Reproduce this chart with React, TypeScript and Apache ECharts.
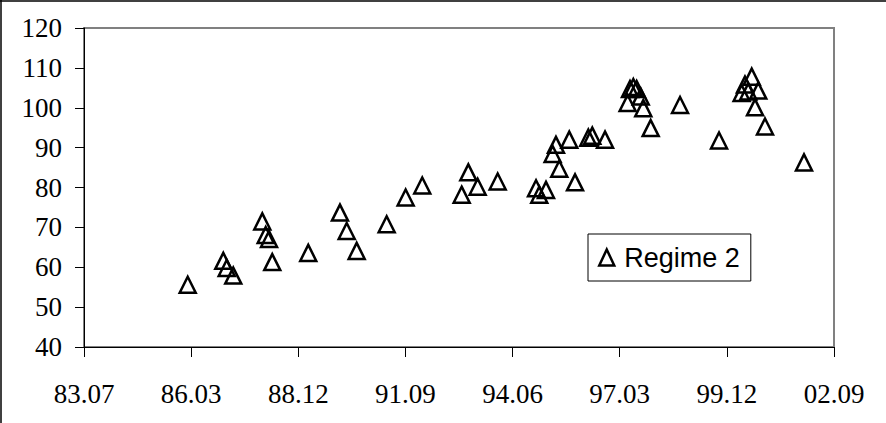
import React, { useEffect, useRef } from "react";
import * as echarts from "echarts";

// x = days since 1983-07 (axis start), y = value
const xTickLabels = ["83.07", "86.03", "88.12", "91.09", "94.06", "97.03", "99.12", "02.09"];
const seriesName = "Regime 2";
const xDays = [
  968, 1300, 1332, 1393, 1664, 1696, 1727, 1757, 2093, 2389, 2452, 2545, 2825, 3002, 3157,
  3525, 3587, 3674, 3861, 4219, 4249, 4312, 4374, 4405, 4436, 4529, 4583, 4707, 4744, 4863,
  5074, 5096, 5127, 5158, 5196, 5220, 5289, 5563, 5927, 6138, 6169, 6200, 6232, 6263, 6293,
  6356, 6720,
];
const yValues = [
  55.6, 61.6, 59.8, 57.9, 71.5, 68.1, 67.1, 61.3, 63.6, 73.7, 69.1, 64.1, 70.8, 77.5, 80.5,
  78.2, 83.8, 80.2, 81.5, 79.8, 78.2, 79.4, 88.4, 90.7, 84.7, 92.0, 81.3, 92.5, 93.0, 92.0,
  101.2, 104.7, 105.2, 104.7, 102.8, 99.9, 94.9, 100.7, 91.8, 103.7, 105.8, 104.1, 107.8, 100.1, 104.3,
  95.3, 86.3,
];
const yMin = 40;
const yMax = 120;
const yStep = 10;
const xStep = 1000;

export default function App() {
  const ref = useRef<HTMLDivElement>(null);
  useEffect(() => {
    if (!ref.current) return;
    const chart = echarts.init(ref.current, null, { renderer: "svg" });
    const serif = "'Liberation Serif', 'Times New Roman', serif";
    const sans = "'Liberation Sans', Arial, sans-serif";
    chart.setOption({
      animation: false,
      backgroundColor: "#ffffff",
      grid: {
        left: 84,
        top: 28,
        right: 52,
        bottom: 76,
        show: true,
        borderColor: "#808080",
        borderWidth: 2,
        backgroundColor: "transparent",
      },
      xAxis: {
        type: "value",
        min: 0,
        max: xStep * (xTickLabels.length - 1),
        interval: xStep,
        axisLine: { show: true, lineStyle: { color: "#000", width: 1 } },
        axisTick: { show: true, inside: false, length: 10, lineStyle: { color: "#000", width: 1 } },
        splitLine: { show: false },
        axisLabel: {
          margin: 33,
          fontSize: 27,
          fontFamily: serif,
          color: "#000",
          formatter: (v: number) => xTickLabels[Math.round(v / xStep)] ?? "",
        },
      },
      yAxis: {
        type: "value",
        min: yMin,
        max: yMax,
        interval: yStep,
        axisLine: { show: true, lineStyle: { color: "#000", width: 1 } },
        axisTick: { show: true, inside: false, length: 9, lineStyle: { color: "#000", width: 1 } },
        splitLine: { show: false },
        axisLabel: {
          margin: 22,
          fontSize: 27,
          fontFamily: serif,
          color: "#000",
        },
      },
      legend: {
        show: true,
        left: 588,
        top: 234,
        orient: "horizontal",
        padding: [10, 11, 10, 10],
        borderColor: "#000",
        borderWidth: 1,
        backgroundColor: "#fff",
        itemWidth: 15,
        itemHeight: 16,
        icon: "triangle",
        itemStyle: { color: "transparent", borderColor: "#000", borderWidth: 2.5 },
        textStyle: {
          fontSize: 27,
          fontFamily: sans,
          color: "#000",
          lineHeight: 27,
          padding: [0, 0, 0, 5],
        },
        data: [seriesName],
      },
      graphic: [
        { type: "line", shape: { x1: 0, y1: 1, x2: 886, y2: 1 }, style: { stroke: "#000", lineWidth: 1.5 } },
        { type: "line", shape: { x1: 1, y1: 0, x2: 1, y2: 423 }, style: { stroke: "#000", lineWidth: 1.5 } },
      ],
      series: [
        {
          name: seriesName,
          type: "scatter",
          symbol: "triangle",
          symbolSize: 16,
          itemStyle: { color: "transparent", borderColor: "#000", borderWidth: 2.5, opacity: 1 },
          data: xDays.map((x, i) => [x, yValues[i]]),
        },
      ],
    });
    return () => chart.dispose();
  }, []);
  return (
    <div
      ref={ref}
      style={{ position: "fixed", left: 0, top: 0, width: 886, height: 423, background: "#fff" }}
    />
  );
}
